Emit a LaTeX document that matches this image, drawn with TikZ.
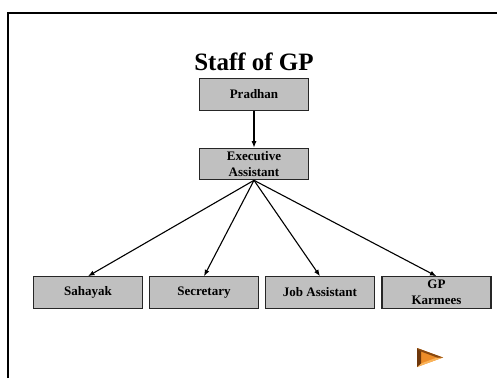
\documentclass[tikz,border=0pt]{standalone}
\usepackage{fontspec}
\setmainfont{Liberation Serif}
\usetikzlibrary{arrows.meta}
\definecolor{boxgray}{RGB}{192,192,192}
\definecolor{btnorange}{RGB}{236,140,40}
\definecolor{btnlight}{RGB}{250,180,90}
\definecolor{btndark}{RGB}{110,55,10}
\begin{document}
\begin{tikzpicture}[x=1pt,y=-1pt,
  box/.style={draw=black!85, line width=1.1pt, fill=boxgray,
    minimum width=109pt, minimum height=31.5pt, inner sep=0pt, align=center,
    font=\fontsize{13}{16.5}\selectfont\bfseries},
  link/.style={line width=1.1pt, -{Latex[length=6.5pt,width=5pt]}}]
\useasboundingbox (0,0) rectangle (497,378);
\fill[white] (0,0) rectangle (497,378);
% slide frame
\draw[line width=2pt] (8,378) -- (8,13) -- (497,13);
% title
\node[font=\fontsize{25}{28}\selectfont\bfseries, anchor=base, inner sep=0pt] (title) at (254,70) {Staff of GP};
% hierarchy
\node[box] (pradhan) at (254,94.5) {Pradhan};
\node[box] (exec) at (254,164) {Executive\\Assistant};
\node[box] (sahayak) at (88,292.5) {Sahayak};
\node[box] (secretary) at (204,292.5) {Secretary};
\node[box] (jobasst) at (320,292.5) {Job Assistant};
\node[box] (karmees) at (436.5,292.5) {GP\\Karmees};
\draw[link] (pradhan.south) -- (exec.north);
\draw[link] (exec.south) -- (sahayak.north);
\draw[link] (exec.south) -- (secretary.north);
\draw[link] (exec.south) -- (jobasst.north);
\draw[link] (exec.south) -- (karmees.north);
% navigation button
\fill[btnorange] (417,348) -- (443,357.5) -- (417,367) -- cycle;
\fill[btnlight] (417,367) -- (443,357.5) -- (437,357.5) -- (421,363.5) -- cycle;
\fill[btndark] (417,348) -- (421,351.5) -- (421,363.5) -- (417,367) -- cycle;
\fill[btndark!80!btnorange] (417,348) -- (443,357.5) -- (437,357.5) -- (421,351.5) -- cycle;
\end{tikzpicture}
\end{document}
